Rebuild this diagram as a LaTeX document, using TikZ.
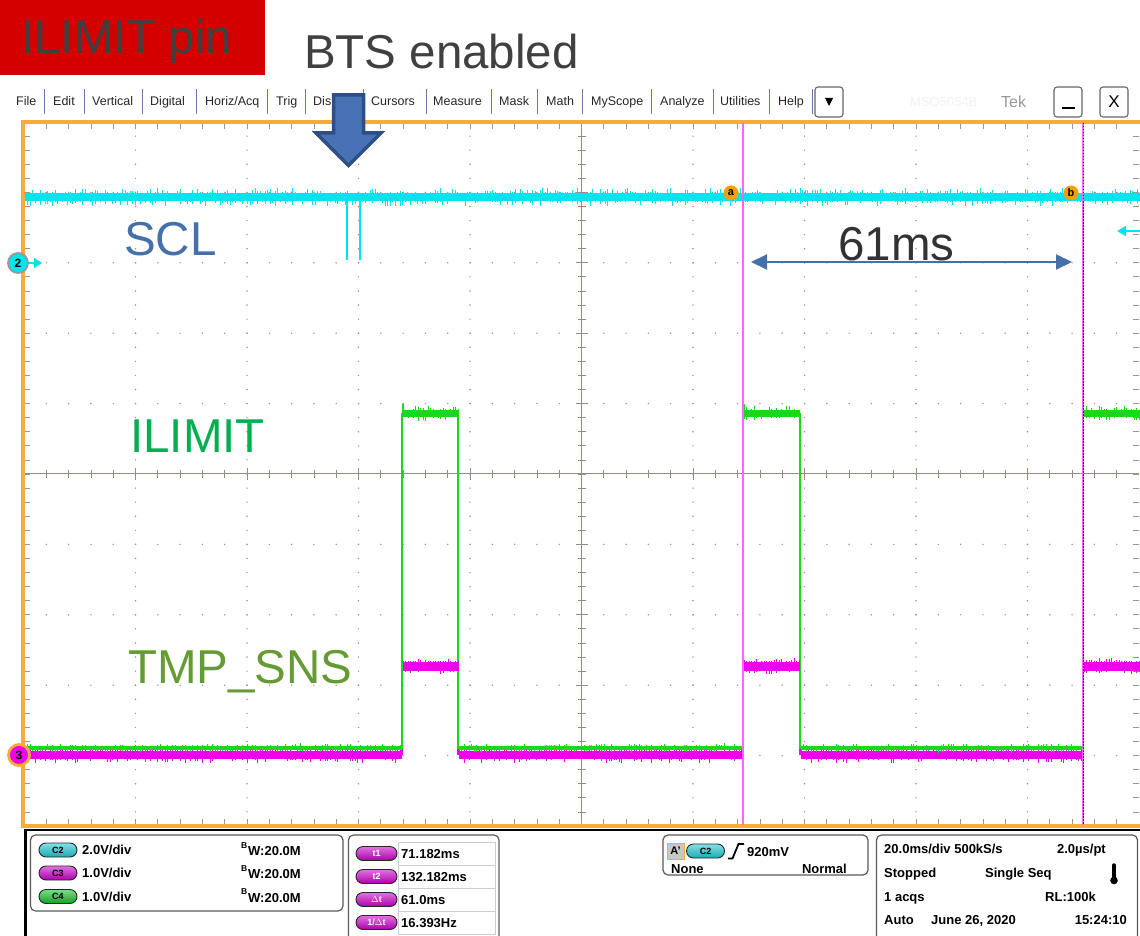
\documentclass[tikz,border=0pt]{standalone}
\usepackage{fontspec}
\setmainfont{Liberation Sans}
\usetikzlibrary{arrows.meta,shapes.misc}

\definecolor{frameorange}{RGB}{250,170,55}
\definecolor{gridgrey}{RGB}{160,150,135}
\definecolor{axisgrey}{RGB}{150,140,125}
\definecolor{trcyan}{RGB}{0,228,238}
\definecolor{trgreen}{RGB}{25,215,25}
\definecolor{trmagenta}{RGB}{238,0,238}
\definecolor{curmagenta}{RGB}{255,100,255}
\definecolor{annblue}{RGB}{70,112,170}
\definecolor{blockfill}{RGB}{72,114,180}
\definecolor{blockedge}{RGB}{45,78,135}
\definecolor{ilimgreen}{RGB}{0,176,80}
\definecolor{tmpgreen}{RGB}{100,155,50}
\definecolor{darktext}{RGB}{64,64,64}
\definecolor{pinred}{RGB}{212,0,0}
\definecolor{menusep}{RGB}{110,120,160}
\definecolor{panelline}{RGB}{90,90,90}
\definecolor{cellline}{RGB}{205,205,205}
\definecolor{markorange}{RGB}{245,160,0}
\definecolor{pillcyan}{RGB}{30,200,210}
\definecolor{pillmag}{RGB}{200,0,200}
\definecolor{pillgreen}{RGB}{20,190,40}

\newcommand\bigfont{\fontsize{47.5}{50}\selectfont}
\newcommand\menufont{\fontsize{12.5}{14}\selectfont}
\newcommand\readfont{\fontsize{13}{15}\selectfont\bfseries}
\newcommand\pillfont{\fontsize{9}{9}\selectfont\bfseries}

% noisy trace segment: colour, x from, x to, centre y, half width, spike length
\newcommand\noisyrun[6]{%
  \fill[#1] (#2,#4-#5) rectangle (#3,#4+#5);
  \pgfmathtruncatemacro\nzn{(#3-#2)/2.5}%
  \foreach \nzk in {0,...,\nzn}{%
    \pgfmathsetmacro\nzx{#2+2.5*\nzk}%
    \pgfmathsetmacro\nzu{#5+#6*rnd^3}%
    \pgfmathsetmacro\nzd{#5+#6*rnd^3}%
    \draw[#1,line width=0.9pt] (\nzx,#4-\nzu) -- (\nzx,#4+\nzd);
  }%
}

\tikzset{
  pill/.style={shape=rounded rectangle, draw=black!85, line width=0.9pt,
    minimum width=38pt, minimum height=14pt, inner sep=0pt, font=\pillfont},
  readout/.style={anchor=base west, font=\readfont, inner sep=0pt, text=black},
  readoutr/.style={anchor=base east, font=\readfont, inner sep=0pt, text=black},
  menuitem/.style={anchor=base west, font=\menufont, inner sep=0pt, text=black!85},
  bigtext/.style={anchor=base west, font=\bigfont, inner sep=0pt},
  panel/.style={draw=panelline, line width=1.2pt, rounded corners=5pt},
  sepline/.style={draw=menusep, line width=0.8pt},
  winbtn/.style={draw=black!60, line width=1.1pt, rounded corners=3pt, fill=white},
  gridtick/.style={draw=gridgrey, line width=0.8pt},
  axistick/.style={draw=axisgrey, line width=0.8pt},
  cursormark/.style={circle, fill=markorange, inner sep=0pt, minimum size=15pt,
    font=\fontsize{11}{11}\selectfont\bfseries},
}

\begin{document}
\begin{tikzpicture}[x=1pt,y=-1pt]
\pgfmathsetseed{12}
\useasboundingbox (0,0) rectangle (1140,936);
\fill[white] (0,0) rectangle (1140,936);

% ---------- menu bar ----------
\foreach \mx/\mt in {16/File,53/Edit,92/Vertical,150/Digital,205/Horiz\slash Acq,
  276/Trig,313/Display,371/Cursors,433/Measure,499/Mask,546/Math,591/MyScope,
  660/Analyze,720/Utilities,778/Help}{
  \node[menuitem] (menu\mx) at (\mx,106) {\mt};
}
\foreach \sx in {44.8,84,142,196,267,305,363,426,491,537,582,651,713,769,812}{
  \draw[sepline] (\sx,89) -- (\sx,114);
}
\draw[winbtn] (815,87) rectangle (843,117);
\fill[black] (825,98) -- (833,98) -- (829,106) -- cycle;
\node[anchor=base west, inner sep=0pt, text={rgb,255:red,243;green,243;blue,243},
  font=\fontsize{13}{14}\selectfont] (model) at (910,107) {MSO5054B};
\node[anchor=base west, inner sep=0pt, text=black!40,
  font=\fontsize{16}{16}\selectfont] (brand) at (1001,108) {Tek};
\draw[winbtn] (1054,87) rectangle (1082,117);
\draw[black, line width=2pt] (1062,108) -- (1075,108);
\draw[winbtn] (1100,87) rectangle (1128,117);
\node[inner sep=0pt, font=\fontsize{17}{17}\selectfont] (closex) at (1114,102) {X};

% ---------- graticule ----------
\foreach \gi in {1,2,3,4,6,7,8,9}{
  \pgfmathsetmacro\gx{24+111.5*\gi}
  \pgfmathsetmacro\gy{122+70.4*\gi}
  \foreach \gk in {1,...,49}{
    \fill[gridgrey] (\gx,122+14.08*\gk) circle (0.8);
    \fill[gridgrey] (24+22.3*\gk,\gy) circle (0.8);
  }
}
\draw[axisgrey, line width=1pt] (24,473.5) -- (1139,473.5);
\draw[axisgrey, line width=1pt] (581.5,122) -- (581.5,826);
\foreach \gk in {1,...,49}{
  \draw[axistick] (24+22.3*\gk,469.5) -- ++(0,8);
  \draw[axistick] (577.5,122+14.08*\gk) -- ++(8,0);
  \draw[gridtick] (24+22.3*\gk,123.5) -- ++(0,6);
  \draw[gridtick] (24+22.3*\gk,824.5) -- ++(0,-6);
  \draw[gridtick] (25,122+14.08*\gk) -- ++(5,0);
  \draw[gridtick] (1139,122+14.08*\gk) -- ++(-6,0);
}
\foreach \gi in {1,2,3,4,6,7,8,9}{
  \draw[axistick] (24+111.5*\gi,467.5) -- ++(0,12);
  \draw[axistick] (575.5,122+70.4*\gi) -- ++(12,0);
}
\draw[frameorange, line width=3.2pt] (1140,122) -- (23,122) -- (23,826) -- (1140,826);

% ---------- traces ----------
% channel 2 (SCL)
\noisyrun{trcyan}{25}{1140}{197}{4}{5}
\draw[trcyan, line width=1.3pt] (347,199) -- (347,260);
\draw[trcyan, line width=1.3pt] (360,199) -- (360,260);

% channel 3 (TMP_SNS)
\draw[trmagenta, line width=1.2pt] (25,754) -- (402,754) -- (402,666) -- (458,666)
  -- (458,754) -- (743,754) -- (743,666) -- (800,666) -- (800,754) -- (1083,754)
  -- (1083,666) -- (1140,666);
\noisyrun{trmagenta}{25}{402}{754.5}{4}{5}
\noisyrun{trmagenta}{459}{743}{754.5}{4}{5}
\noisyrun{trmagenta}{801}{1083}{754.5}{4}{5}

% channel 4 (ILIMIT)
\draw[trgreen, line width=1.2pt] (25,748) -- (402,748) -- (402,413.5) -- (458,413.5)
  -- (458,748) -- (743,748) -- (743,413.5) -- (800,413.5) -- (800,748) -- (1083,748)
  -- (1083,413.5) -- (1140,413.5);
\noisyrun{trgreen}{25}{402}{748}{1.6}{3}
\noisyrun{trgreen}{459}{743}{748}{1.6}{3}
\noisyrun{trgreen}{801}{1083}{748}{1.6}{3}
\noisyrun{trgreen}{403}{458}{413.5}{3.5}{4.5}
\noisyrun{trgreen}{744}{800}{413.5}{3.5}{4.5}
\noisyrun{trgreen}{1084}{1140}{413.5}{3.5}{4.5}
\draw[trgreen, line width=1.2pt] (403,404) -- (403,414);
\draw[trgreen, line width=1.2pt] (744,404) -- (744,414);

\noisyrun{trmagenta}{403}{458}{666}{4.5}{3.5}
\noisyrun{trmagenta}{744}{800}{666}{4.5}{3.5}
\noisyrun{trmagenta}{1084}{1140}{666}{4.5}{3.5}

% ---------- cursors ----------
\draw[curmagenta, line width=1.4pt] (743,123) -- (743,825);
\draw[curmagenta, line width=1.4pt] (1083,123) -- (1083,825);
\draw[black!80, line width=0.7pt, dash pattern=on 1.5pt off 1.5pt] (1083,123) -- (1083,825);
\node[cursormark] (marka) at (731,193) {a};
\node[cursormark] (markb) at (1071,193) {b};

% channel markers on the left edge
\node[circle, fill=trcyan, draw=black!40, line width=1.8pt, minimum size=20pt,
  inner sep=0pt, font=\fontsize{12}{12}\selectfont\bfseries] (chtwo) at (18,263) {2};
\coordinate (chtwotip) at (42,263);
\draw[trcyan, line width=1.8pt, -{Triangle[length=8pt,width=10pt]}] (chtwo.east) -- (chtwotip);
\node[circle, fill=trmagenta, draw=frameorange, line width=2.8pt, minimum size=21pt,
  inner sep=0pt, font=\fontsize{12}{12}\selectfont\bfseries] (chthree) at (19,755) {3};

% off-screen reference arrow at the right edge
\coordinate (refstart) at (1140,231);
\coordinate (reftip) at (1117,231);
\draw[trcyan, line width=1.6pt, -{Triangle[length=9pt,width=10pt]}] (refstart) -- (reftip);

% ---------- annotations ----------
\fill[pinred] (0,0) rectangle (265,75);
\node[bigtext, text=darktext] (pinlabel) at (21,54) {ILIMIT pin};
\node[bigtext, text=darktext] (btslabel) at (304,69) {BTS enabled};

\draw[fill=blockfill, draw=blockedge, line width=3.5pt, line join=miter]
  (333.5,95) -- (363.5,95) -- (363.5,133) -- (381,133) -- (348.5,165.5)
  -- (316,133) -- (333.5,133) -- cycle;

\node[bigtext, text=annblue] (scllabel) at (124,255) {SCL};
\node[bigtext, text=ilimgreen] (ilimlabel) at (130,452) {ILIMIT};
\node[bigtext, text=tmpgreen] (tmplabel) at (128,683) {TMP\_SNS};
\node[bigtext, text={rgb,255:red,50;green,50;blue,50}] (mslabel) at (838,260) {61ms};
\coordinate (dimL) at (751,262);
\coordinate (dimR) at (1072,262);
\draw[annblue, line width=2pt,
  {Triangle[length=16pt,width=15pt]}-{Triangle[length=16pt,width=15pt]}] (dimL) -- (dimR);

% ---------- readout area ----------
\draw[black, line width=1.5pt] (24,829.8) -- (1140,829.8);
\draw[black, line width=2.5pt] (25.5,829) -- (25.5,936);

% channel settings
\draw[panel] (30.5,835) rectangle (343,911);
\node[pill, top color=pillcyan!55!white, bottom color=pillcyan!85!black] (pcTwo) at (58,850) {C2};
\node[pill, top color=pillmag!55!white, bottom color=pillmag!85!black] (pcThree) at (58,873) {C3};
\node[pill, top color=pillgreen!55!white, bottom color=pillgreen!85!black] (pcFour) at (58,896.5) {C4};
\node[readout] (vTwo) at (82,854.5) {2.0V/div};
\node[readout] (vThree) at (82,877.5) {1.0V/div};
\node[readout] (vFour) at (82,901) {1.0V/div};
\foreach \by/\bn in {854.5/Two,877.5/Three,901/Four}{
  \node[anchor=base east, inner sep=0pt, font=\fontsize{8.5}{9}\selectfont\bfseries]
    (bwB\bn) at (247.5,\by-6.5) {B};
  \node[readout] (bw\bn) at (248,\by+1) {W:20.0M};
}

% cursor readouts
\draw[panel] (348.5,936) -- (348.5,835) -- (499,835) -- (499,936);
\draw[cellline, line width=0.8pt] (398,842) rectangle (495,934);
\foreach \ry in {865,888,911}{ \draw[cellline, line width=0.8pt] (398,\ry) -- (495,\ry); }
\foreach \ry/\rt/\rv/\rn in {853.5/t1/71.182ms/a,876.5/t2/132.182ms/b,
    899.5/\(\Delta\)t/61.0ms/c,922.5/1\slash\(\Delta\)t/16.393Hz/d}{
  \node[pill, minimum width=41pt, text=white,
    top color=pillmag!55!white, bottom color=pillmag!85!black] (tp\rn) at (376.5,\ry) {\rt};
  \node[readout] (tv\rn) at (401,\ry+4.7) {\rv};
}

% trigger
\draw[panel] (663,835) rectangle (868,875);
\node[draw=frameorange, fill=black!22, line width=1pt, minimum width=17pt,
  minimum height=16pt, inner sep=0pt, font=\fontsize{11}{11}\selectfont\bfseries]
  (trigA) at (675.5,851) {A'};
\node[pill, top color=pillcyan!55!white, bottom color=pillcyan!85!black] (trigCh) at (705.5,851) {C2};
\draw[black, line width=1.8pt] (728,858.5) -- (732.5,858.5) -- (738.5,844) -- (744,844);
\node[readout] (triglevel) at (747,856) {920mV};
\node[readout] (trigsrc) at (671,873) {None};
\node[readoutr] (trigmode) at (847,873) {Normal};

% acquisition / timebase
\draw[panel] (876.5,936) -- (876.5,835) -- (1137.5,835) -- (1137.5,936);
\node[readout] (tbase) at (884,853.5) {20.0ms/div 500kS/s};
\node[readoutr] (tres) at (1106,853.5) {2.0µs/pt};
\node[readout] (tstate) at (884,877) {Stopped};
\node[readout] (tseq) at (985,877) {Single Seq};
\draw[black, line width=3.5pt, line cap=round] (1114,865) -- (1114,878);
\fill[black] (1114,880.5) circle (3.8);
\node[readout] (tacq) at (884,901) {1 acqs};
\node[readoutr] (trl) at (1096,901) {RL:100k};
\node[readout] (tauto) at (884,924) {Auto};
\node[readout] (tdate) at (931,924) {June 26, 2020};
\node[readoutr] (ttime) at (1127,924) {15:24:10};
\end{tikzpicture}
\end{document}
